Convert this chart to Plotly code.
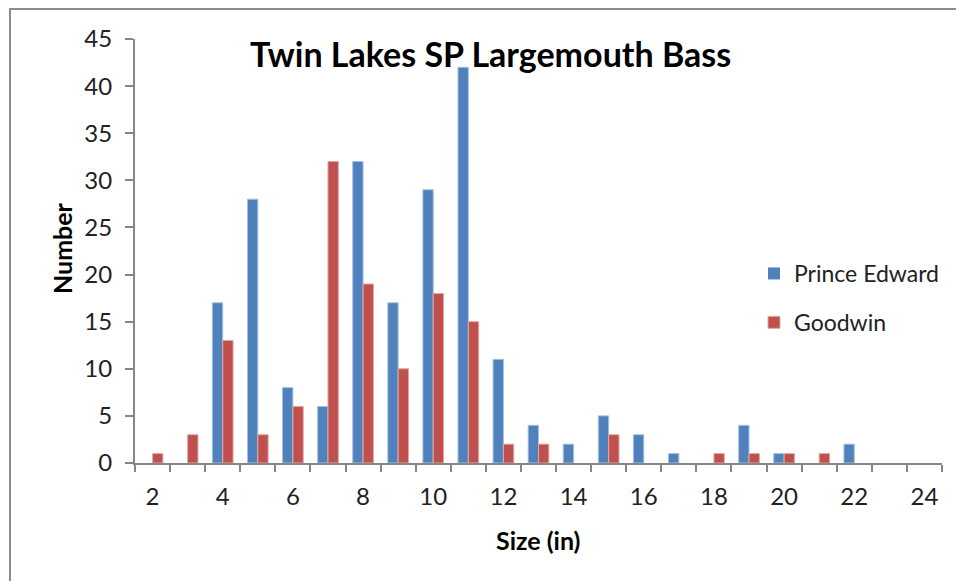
import plotly.graph_objects as go

sizes = list(range(2, 25))
prince_edward = [0, 0, 17, 28, 8, 6, 32, 17, 29, 42, 11, 4, 2, 5, 3, 1, 0, 4, 1, 0, 2, 0, 0]
goodwin = [1, 3, 13, 3, 6, 32, 19, 10, 18, 15, 2, 2, 0, 3, 0, 0, 1, 1, 1, 1, 0, 0, 0]
x_tick_vals = [2, 4, 6, 8, 10, 12, 14, 16, 18, 20, 22, 24]
x_tick_text = [str(v) for v in x_tick_vals]
y_tick_vals = [0, 5, 10, 15, 20, 25, 30, 35, 40, 45]

BLUE = "#4F81BD"
RED = "#C0504D"
AXIS = "#868686"
TXT = "#222222"
FONT = "Lato"

# plot area pixel geometry
L, R, T, B = 135, 942, 39, 463
W, H = 956, 581


def px_x(p):
    return (p - L) / (R - L)


def px_y(p):
    return (B - p) / (B - T)


def edge_widths(vals):
    return [1 if v > 0 else 0 for v in vals]


fig = go.Figure()
fig.add_trace(go.Bar(
    x=sizes, y=prince_edward, name="Prince Edward",
    marker=dict(color=BLUE, line=dict(color="#A7C0E0", width=edge_widths(prince_edward))),
    legendgroup="pe",
))
fig.add_trace(go.Bar(
    x=sizes, y=goodwin, name="Goodwin",
    marker=dict(color=RED, line=dict(color="#E0A7A5", width=edge_widths(goodwin))),
    legendgroup="gw",
))

fig.update_layout(
    width=W, height=H,
    margin=dict(l=L, r=W - R, t=T, b=H - B, autoexpand=False),
    paper_bgcolor="white", plot_bgcolor="white",
    barmode="group", bargap=0.41, bargroupgap=0,
    font=dict(family=FONT, size=24, color=TXT),
    showlegend=True,
    legend=dict(
        x=px_x(754), y=px_y(252), xanchor="left", yanchor="top",
        font=dict(family=FONT, size=23, color=TXT),
        traceorder="grouped", tracegroupgap=16,
        bgcolor="rgba(0,0,0,0)",
    ),
    xaxis=dict(
        range=[1.5, 24.5], tickmode="array", tickvals=x_tick_vals, ticktext=x_tick_text,
        ticks="", showline=True, linecolor=AXIS, linewidth=2,
        showgrid=False, zeroline=False, ticklabelstandoff=11,
        tickfont=dict(family=FONT, size=24, color=TXT),
        minor=dict(tick0=1.5, dtick=1, ticks="outside", ticklen=7, tickwidth=2,
                   tickcolor=AXIS, showgrid=False),
    ),
    yaxis=dict(
        range=[0, 45], tickmode="array", tickvals=y_tick_vals,
        ticks="outside", ticklen=8, tickwidth=2, tickcolor=AXIS,
        showline=True, linecolor=AXIS, linewidth=2,
        showgrid=False, zeroline=False, ticklabelstandoff=8,
        tickfont=dict(family=FONT, size=24, color=TXT),
    ),
    shapes=[dict(
        type="rect", xref="paper", yref="paper",
        x0=px_x(10), x1=px_x(990), y0=px_y(620), y1=px_y(9),
        line=dict(color="#8C8C8C", width=2), fillcolor="rgba(0,0,0,0)", layer="below",
    )],
    annotations=[
        dict(text="<b>Twin Lakes SP Largemouth Bass</b>", xref="paper", yref="paper",
             x=px_x(490), y=px_y(54), xanchor="center", yanchor="middle",
             showarrow=False, font=dict(family=FONT, size=34, color="#000000")),
        dict(text="<b>Number</b>", xref="paper", yref="paper",
             x=px_x(62), y=px_y(248), xanchor="center", yanchor="middle", textangle=-90,
             showarrow=False, font=dict(family=FONT, size=25, color="#000000")),
        dict(text="<b>Size (in)</b>", xref="paper", yref="paper",
             x=px_x(538), y=px_y(540), xanchor="center", yanchor="middle",
             showarrow=False, font=dict(family=FONT, size=25, color="#000000")),
    ],
)

fig.write_html(
    "out.html",
    config={"displayModeBar": False},
    post_script="document.body.style.margin='0';document.body.style.overflow='hidden';",
)
